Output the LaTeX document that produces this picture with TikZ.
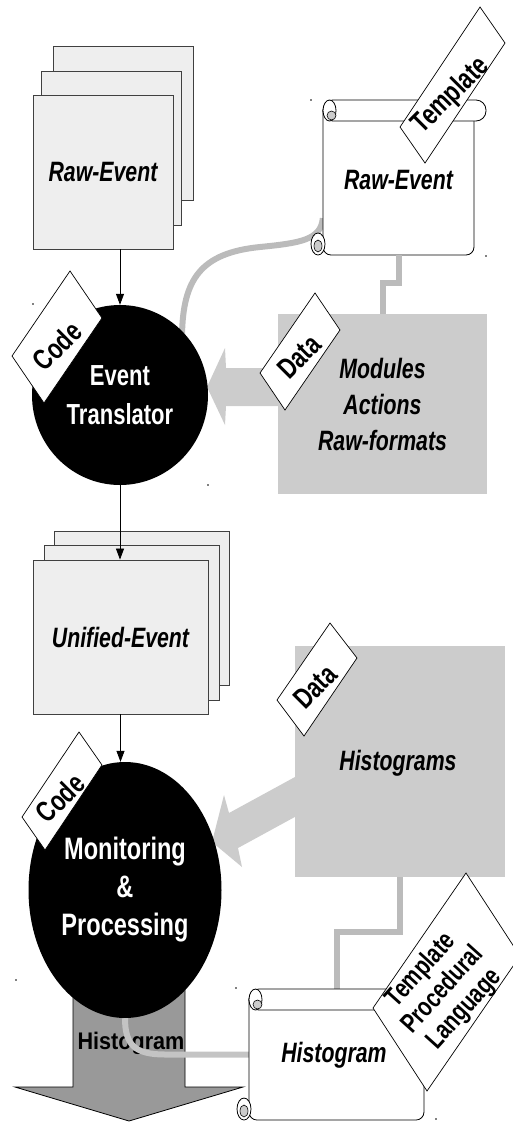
\documentclass[tikz,border=0pt]{standalone}
\usepackage{fontspec}
\setmainfont{Liberation Sans}
\newfontfamily\nf{Liberation Sans}[FakeStretch=0.76]
\newfontfamily\nfb{Liberation Sans}[FakeStretch=0.9]
\usetikzlibrary{shapes.geometric,arrows.meta}
\definecolor{sheetfill}{HTML}{EEEEEE}
\definecolor{sheetdraw}{HTML}{404040}
\definecolor{boxgray}{HTML}{CCCCCC}
\definecolor{conngray}{HTML}{BBBBBB}
\definecolor{curvegray}{HTML}{C4C4C4}
\definecolor{arrowgray}{HTML}{999999}
\definecolor{curlgray}{HTML}{CCCCCC}
% scroll outline: #1 = left x of curls, #2 = top y, #3 = right x of roll, #4 = bottom y
\newcommand{\myscroll}[4]{%
  \draw[line width=0.8pt,fill=white,rounded corners=8pt]
    ({#1+12},{#2+10}) -- ({#1+12},{#4}) -- ({#3-12},{#4}) -- ({#3-12},{#2+10});
  \draw[line width=0.8pt,fill=white,rounded corners=10pt]
    ({#1+12},{#2}) rectangle ({#3},{#2+21});
  \draw[line width=0.8pt,fill=white] ({#1+18.5},{#2+10.5}) ellipse [x radius=6.5, y radius=10.5];
  \draw[line width=0.6pt,fill=curlgray] ({#1+20.5},{#2+15.5}) circle [radius=4.5];
  \draw[line width=0.8pt,fill=white] ({#1+7},{#4-11}) ellipse [x radius=7, y radius=11];
  \draw[line width=0.6pt,fill=curlgray] ({#1+7},{#4-9}) ellipse [x radius=4, y radius=6];
}
\begin{document}
\begin{tikzpicture}[x=1pt,y=-1pt,line join=miter,
  sheet/.style={draw=sheetdraw,fill=sheetfill,line width=0.9pt},
  mainlbl/.style={font=\nf\bfseries\itshape\fontsize{28}{36}\selectfont,align=center},
  circlbl/.style={ellipse,fill=black,inner sep=0pt,text=white,align=center},
  graybox/.style={fill=boxgray,inner sep=0pt},
  tagbox/.style={draw=black,fill=white,line width=0.7pt},
  tagtxt/.style={font=\nf\bfseries\fontsize{29}{34}\selectfont,rotate=45,align=center,inner sep=0pt},
  conn/.style={draw=conngray,line width=6pt},
  arr/.style={draw=black,line width=0.8pt,-{Triangle[length=11pt,width=8pt]}},
  bigarrow/.style={fill=boxgray},
  dotmark/.style={fill=black}]
\useasboundingbox (0,0) rectangle (513,1122);

% ---- Raw-Event stack
\draw[sheet] (53,46) rectangle (193,200);
\draw[sheet] (41,71) rectangle (181,225);
\node[sheet,mainlbl,minimum width=140pt,minimum height=154pt,inner sep=0pt] (rawev) at (103,172) {Raw-Event};

% ---- scroll 1 (template)
\node[minimum width=151pt,minimum height=155pt,inner sep=0pt] (tpl1box) at (398.5,177.5) {};
\coordinate (c1s) at ([yshift=37pt]tpl1box.south west);
\draw[conn] (c1s) .. controls (321,240) and (300,243) .. (260,247)
               .. controls (200,253) and (183,280) .. (182,335);
\myscroll{311}{100}{486}{255}
\node[mainlbl] (tpl1) at (398.5,180) {Raw-Event};
\draw[tagbox] (480,7) -- (505,43) -- (425,163) -- (400,127) -- cycle;
\node[tagtxt] (tagtpl) at (451,96) {Template};

% ---- data box 1
\draw[conn] (tpl1box.south) -- ++(0,28) -| (382.5,320);
\node[graybox,minimum width=209pt,minimum height=180pt] (mods) at (382.5,404) {};
\node[mainlbl] (modstxt) at (mods.center) {Modules\\Actions\\Raw-formats};
\fill[bigarrow] (281,368) -- (226,368) -- (225,348) -- (207,387) -- (225,425) -- (226,406) -- (281,406) -- cycle;

% ---- Event translator
\node[circlbl,minimum width=176pt,minimum height=180pt,font=\nf\bfseries\fontsize{29}{39}\selectfont] (evt) at (120,395) {Event\\Translator};
\draw[tagbox] (70,271) -- (102,318) -- (44,403) -- (12,356) -- cycle;
\node[tagtxt] (tagcode1) at (57,346) {Code};
\draw[tagbox] (315,293) -- (340,330) -- (285,410) -- (260,373) -- cycle;
\node[tagtxt] (tagdata1) at (299,357) {Data};
\draw[arr] (rawev.south -| evt.north) -- (evt.north);

% ---- Unified-Event stack
\draw[sheet] (54,531) rectangle (229,685);
\draw[sheet] (44,545) rectangle (219,700);
\node[sheet,mainlbl,minimum width=175pt,minimum height=154pt,inner sep=0pt] (unev) at (120.5,637) {Unified-Event};
\draw[arr] (evt.south) -- (evt.south |- unev.north);

% ---- Histograms data box
\node[graybox,minimum width=210pt,minimum height=231pt] (hist) at (400,761.5) {};
\node[mainlbl] (histtxt) at (398,763) {Histograms};
\fill[bigarrow] (310,768.8) -- (229,813) -- (224,795) -- (212,842) -- (242,867) -- (238,848) -- (310,808.7) -- cycle;

% ---- big output arrow
\draw[fill=arrowgray,line width=0.8pt] (73,955) -- (73,1087) -- (15,1087) -- (129,1121) -- (243,1087) -- (185,1087) -- (185,955) -- cycle;
\node[font=\nfb\bfseries\fontsize{24}{29}\selectfont,inner sep=0pt] (outlbl) at (131,1043) {Histogram};

% ---- Monitoring & Processing
\node[circlbl,minimum width=193pt,minimum height=256pt,font=\nf\bfseries\fontsize{31}{38}\selectfont] (mon) at (125,890) {Monitoring\\\&\\Processing};
\draw[arr] (unev.south) -- (unev.south |- mon.north);
\draw[tagbox] (79,732) -- (102,765) -- (45,850) -- (22,817) -- cycle;
\node[tagtxt] (tagcode2) at (60,798) {Code};
\draw[tagbox] (330,623) -- (357,658) -- (304,736) -- (277,700) -- cycle;
\node[tagtxt] (tagdata2) at (315,687) {Data};

% ---- scroll 2 (template procedural language)
\node[minimum width=175pt,minimum height=131pt,inner sep=0pt] (tpl2box) at (336.5,1054.5) {};
\draw[conn] (hist.south) -- ++(0,55) -| (tpl2box.north);
\draw[draw=curvegray,line width=6pt] (mon.south) .. controls (125,1045) and (135,1054.5) .. (165,1054.5) -- (tpl2box.west);
\myscroll{237}{989}{436}{1120}
\node[mainlbl] (tpl2) at (334,1055) {Histogram};
\draw[tagbox] (466,873) -- (520,956) -- (427,1091) -- (373,1008) -- cycle;
\node[tagtxt,rotate=3,font=\nf\bfseries\fontsize{27}{29}\selectfont] (tagtpl2) at (443,990) {Template\\Procedural\\Language};

% ---- tiny handle dots
\foreach \p in {(311,100),(486,256),(33,304),(208,485),(16,980),(236,988),(436,1119)}
  \fill[dotmark] \p circle [radius=0.9];
\end{tikzpicture}
\end{document}
